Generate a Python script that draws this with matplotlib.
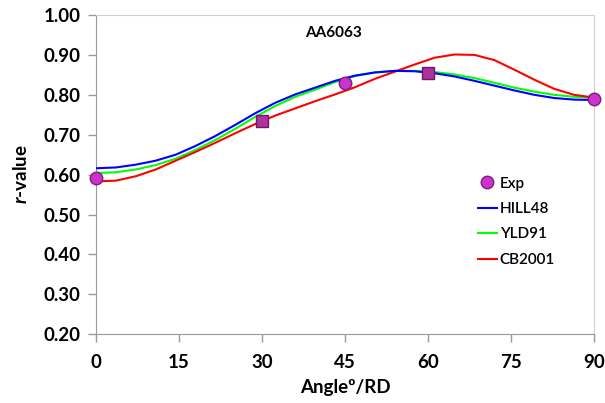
import numpy as np
import matplotlib
matplotlib.use('Agg')
from matplotlib import pyplot as plt

plt.rcParams['font.family'] = ['Lato', 'DejaVu Sans']
plt.rcParams['mathtext.fontset'] = 'custom'
plt.rcParams['mathtext.it'] = 'Lato:italic:bold'
plt.rcParams['mathtext.rm'] = 'Lato:bold'

# model curves, every 3.6 deg
angles = [0, 3.6, 7.2, 10.8, 14.4, 18.0, 21.6, 25.2, 28.8, 32.4, 36.0, 39.6, 43.2,
          46.8, 50.4, 54.0, 57.6, 61.2, 64.8, 68.4, 72.0, 75.6, 79.2, 82.8, 86.4, 90.0]
hill48 = [0.616, 0.618, 0.625, 0.635, 0.650, 0.672, 0.697, 0.725, 0.754, 0.780, 0.801,
          0.818, 0.835, 0.848, 0.856, 0.860, 0.859, 0.854, 0.846, 0.835, 0.823, 0.811,
          0.800, 0.792, 0.788, 0.787]
yld91 = [0.604, 0.606, 0.613, 0.624, 0.640, 0.662, 0.687, 0.715, 0.745, 0.772, 0.795,
         0.813, 0.832, 0.847, 0.856, 0.860, 0.860, 0.857, 0.851, 0.842, 0.830, 0.818,
         0.808, 0.800, 0.795, 0.793]
cb2001 = [0.583, 0.585, 0.596, 0.613, 0.635, 0.657, 0.680, 0.704, 0.727, 0.748, 0.766,
          0.784, 0.801, 0.819, 0.840, 0.858, 0.876, 0.893, 0.901, 0.900, 0.887, 0.863,
          0.838, 0.815, 0.800, 0.793]

# experimental points
exp_round_ang = [0, 45, 90]
exp_round_r = [0.591, 0.830, 0.790]
exp_sq_ang = [30, 60]
exp_sq_r = [0.735, 0.854]

fig = plt.figure(figsize=(6.05, 4.03), dpi=100)
ax = fig.add_axes([0.1587, 0.1705, 0.8231, 0.7923])

ax.plot(angles, hill48, color='#0000ff', lw=1.5, label='HILL48', zorder=3)
ax.plot(angles, yld91, color='#00ff00', lw=1.5, label='YLD91', zorder=2)
ax.plot(angles, cb2001, color='#ff0000', lw=1.5, label='CB2001', zorder=2)
ax.plot(exp_round_ang, exp_round_r, 'o', ms=9, color='#cc33cc', mec='#7a1f7a', mew=1,
        label='Exp', zorder=5, clip_on=False)
ax.plot(exp_sq_ang, exp_sq_r, 's', ms=8, color='#b0309e', mec='#6a1a6a', mew=1,
        zorder=5, clip_on=False)

ax.set_xlim(0, 90)
ax.set_ylim(0.2, 1.0)
ax.set_xticks(np.arange(0, 91, 15))
ax.set_yticks(np.arange(0.2, 1.01, 0.1))
ax.set_yticklabels(['%.2f' % v for v in np.arange(0.2, 1.01, 0.1)])

for s in ['left', 'bottom']:
    ax.spines[s].set_color('#9a9a9a')
for s in ['top', 'right']:
    ax.spines[s].set_color('#d0d0d0')
ax.tick_params(axis='both', colors='#9a9a9a', length=6, width=1, labelcolor='black',
               labelsize=13.5)
for lab in ax.get_xticklabels() + ax.get_yticklabels():
    lab.set_fontweight('bold')
ax.tick_params(axis='x', pad=8)
ax.tick_params(axis='y', pad=5)

ax.set_xlabel('Angleº/RD', fontsize=13.5, fontweight='bold', labelpad=6)
ax.set_ylabel(r'$\it{r}$-value', fontsize=13.5, fontweight='bold', labelpad=10)

ax.text(37.8, 0.945, 'AA6063', fontsize=11, fontweight='bold')

h, l = ax.get_legend_handles_labels()
order = [3, 0, 1, 2]
ax.legend([h[i] for i in order], [l[i] for i in order], loc='upper left',
          bbox_to_anchor=(0.74, 0.537), frameon=False,
          handlelength=1.2, handletextpad=0.2, labelspacing=0.75,
          prop={'weight': 'semibold', 'size': 11})

fig.savefig('out.png', dpi=100)
